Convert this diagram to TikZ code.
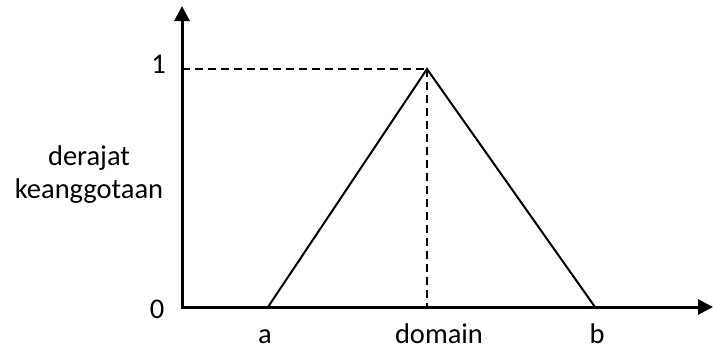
\documentclass[tikz,border=0pt]{standalone}
\usepackage{fontspec}
\setmainfont{Carlito}
\usetikzlibrary{arrows.meta}
\begin{document}
\begin{tikzpicture}[x=1pt,y=-1pt,
  axis/.style={line width=3pt,-{Triangle[length=15pt,width=15pt]}},
  tri/.style={line width=2pt},
  guide/.style={line width=2pt,dash pattern=on 8pt off 5pt},
  lbl/.style={anchor=base,inner sep=0pt,font=\fontsize{28.5}{34}\selectfont}]
\useasboundingbox (0,0) rectangle (713,349);
\coordinate (O) at (182,307);
\coordinate (T) at (182,6);
\coordinate (R) at (713,307);
\coordinate (A) at (268,307);
\coordinate (P) at (427,69);
\coordinate (B) at (595,307);
\coordinate (Y) at (182,69);
\coordinate (D) at (427,307);
\draw[guide] (Y) -- (P);
\draw[guide] (P) -- (D);
\draw[tri] (A) -- (P) -- (B);
\draw[axis] ([yshift=-1.5pt]O) -- (T);
\draw[axis] ([xshift=-1.5pt]O) -- (R);
\node[lbl] (one) at (158.5,73) {1};
\node[lbl] (zero) at (157,318) {0};
\node[lbl] (der) at (89,165) {derajat};
\node[lbl] (kea) at (89,198) {keanggotaan};
\node[lbl] (la) at (265,343) {a};
\node[lbl] (ld) at (439,343) {domain};
\node[lbl] (lb) at (597,343) {b};
\end{tikzpicture}
\end{document}
